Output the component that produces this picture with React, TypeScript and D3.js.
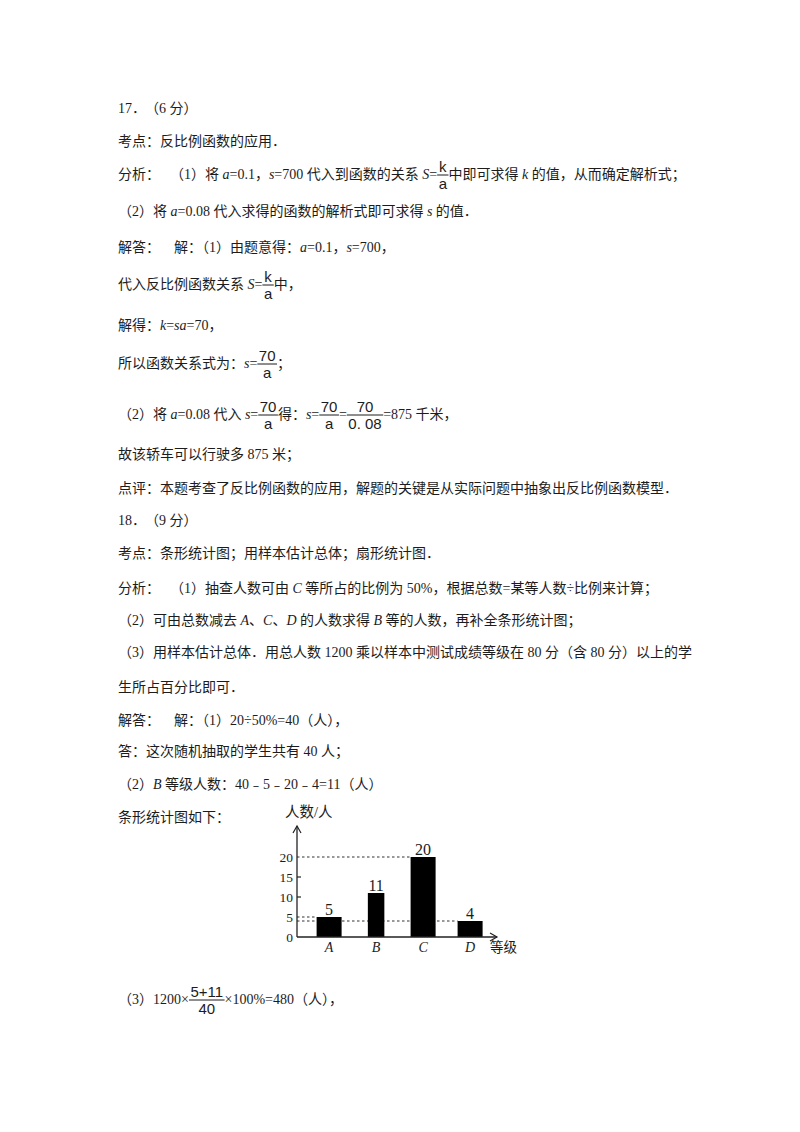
import React, { useMemo } from 'react';
import * as d3 from 'd3';

// ---------- chart data ----------
const categories = ['A', 'B', 'C', 'D'];
const counts = [5, 11, 20, 4];
const yTicks = [0, 5, 10, 15, 20];
const guideCategories = ['A', 'C', 'D'];
const yAxisTitle = '人数/人';
const xAxisTitle = '等级';

// ---------- page text ----------
type Item = string | { f: [string, string] } | { x: number };
type Line = { c: number; items: Item[] };

const lines: Line[] = [
  { c: 108, items: ['17．', { x: 145 }, '（6 分）'] },
  { c: 141, items: ['考点：反比例函数的应用．'] },
  { c: 174, items: ['分析：', { x: 170 }, '（1）将 *a*=0.1，*s*=700 代入到函数的关系 *S*=', { f: ['k', 'a'] }, '中即可求得 *k* 的值，从而确定解析式；'] },
  { c: 211, items: ['（2）将 *a*=0.08 代入求得的函数的解析式即可求得 *s* 的值．'] },
  { c: 247, items: ['解答：', { x: 174 }, '解：（1）由题意得：*a*=0.1，*s*=700，'] },
  { c: 284, items: ['代入反比例函数关系 *S*=', { f: ['k', 'a'] }, '中，'] },
  { c: 325, items: ['解得：*k*=*sa*=70，'] },
  { c: 363, items: ['所以函数关系式为：*s*=', { f: ['70', 'a'] }, '；'] },
  { c: 414, items: ['（2）将 *a*=0.08 代入 *s*=', { f: ['70', 'a'] }, '得：*s*=', { f: ['70', 'a'] }, '=', { f: ['70', '0. 08'] }, '=875 千米，'] },
  { c: 454, items: ['故该轿车可以行驶多 875 米；'] },
  { c: 488, items: ['点评：本题考查了反比例函数的应用，解题的关键是从实际问题中抽象出反比例函数模型．'] },
  { c: 520, items: ['18．', { x: 145 }, '（9 分）'] },
  { c: 553, items: ['考点：条形统计图；用样本估计总体；扇形统计图．'] },
  { c: 588, items: ['分析：', { x: 170 }, '（1）抽查人数可由 *C* 等所占的比例为 50%，根据总数=某等人数÷比例来计算；'] },
  { c: 620, items: ['（2）可由总数减去 *A*、*C*、*D* 的人数求得 *B* 等的人数，再补全条形统计图；'] },
  { c: 652, items: ['（3）用样本估计总体．用总人数 1200 乘以样本中测试成绩等级在 80 分（含 80 分）以上的学'] },
  { c: 687, items: ['生所占百分比即可．'] },
  { c: 720, items: ['解答：', { x: 174 }, '解：（1）20÷50%=40（人），'] },
  { c: 751, items: ['答：这次随机抽取的学生共有 40 人；'] },
  { c: 784, items: ['（2）*B* 等级人数：40﹣5﹣20﹣4=11（人）'] },
  { c: 817, items: ['条形统计图如下：'] },
  { c: 999, items: ['（3）1200×', { f: ['5+11', '40'] }, '×100%=480（人），'] },
];

// ---------- styles ----------
const FS = 14;
const SERIF = '"Liberation Serif", "Times New Roman", "Noto Sans CJK SC", serif';
const FRAC = '"Liberation Sans", Arial, "Noto Sans CJK SC", sans-serif';
const FRAC_FS = 15;
const INK = '#1c1c1c';
const LEFT = 118;
const barWidthScale: Record<string, number> = { A: 1, B: 0.66, C: 1, D: 1 };

let ctx: CanvasRenderingContext2D | null = null;
function measure(text: string, italic: boolean, size: number, family: string) {
  if (!ctx) ctx = document.createElement('canvas').getContext('2d');
  if (!ctx) return text.length * size * 0.6;
  ctx.font = `${italic ? 'italic ' : ''}${size}px ${family}`;
  return ctx.measureText(text).width;
}

function layoutLine(line: Line, key: number) {
  const out: React.ReactNode[] = [];
  let cx = LEFT;
  const base = line.c + 5;
  const barY = line.c + 1;
  let k = 0;
  for (const it of line.items) {
    if (typeof it === 'string') {
      const parts = it.split('*');
      parts.forEach((p, i) => {
        if (!p) return;
        const italic = i % 2 === 1;
        out.push(
          <text key={`${key}-${k++}`} x={cx} y={base} fontFamily={SERIF} fontSize={FS}
            fontStyle={italic ? 'italic' : 'normal'} fill={INK} style={{ whiteSpace: 'pre' }}>{p}</text>
        );
        cx += measure(p, italic, FS, SERIF);
      });
    } else if ('x' in it) {
      cx = it.x;
    } else {
      const [n, d] = it.f;
      const w = Math.max(measure(n, false, FRAC_FS, FRAC), measure(d, false, FRAC_FS, FRAC)) + 3;
      out.push(
        <g key={`${key}-${k++}`}>
          <text x={cx + w / 2} y={barY - 3} textAnchor="middle" fontFamily={FRAC} fontSize={FRAC_FS}
            fill={INK} style={{ whiteSpace: 'pre' }}>{n}</text>
          <line x1={cx} x2={cx + w} y1={barY} y2={barY} stroke={INK} strokeWidth={1} />
          <text x={cx + w / 2} y={barY + 14} textAnchor="middle" fontFamily={FRAC} fontSize={FRAC_FS}
            fill={INK} style={{ whiteSpace: 'pre' }}>{d}</text>
        </g>
      );
      cx += w;
    }
  }
  return <g key={key}>{out}</g>;
}

function BarChart() {
  const xAxisX = 297;
  const baseY = 937;
  const x = d3.scaleBand<string>().domain(categories).range([305.6, 493.6]);
  const y = d3.scaleLinear().domain([0, 20]).range([baseY, 857]);
  const barW = 25;
  const xEnd = 497;
  const yTop = 826;
  const barLeft = (c: string) => x(c)! + x.bandwidth() / 2 - (barW * barWidthScale[c]) / 2;

  return (
    <g>
      {guideCategories.map((c) => {
        const v = counts[categories.indexOf(c)];
        return (
          <line key={`g${c}`} x1={xAxisX} x2={barLeft(c)} y1={y(v)} y2={y(v)}
            stroke="#333" strokeWidth={1.2} strokeDasharray="2.5,2.5" />
        );
      })}
      {categories.map((c, i) => {
        const w = barW * barWidthScale[c];
        const cx = x(c)! + x.bandwidth() / 2;
        return (
          <g key={c}>
            <rect x={cx - w / 2} y={y(counts[i])} width={w} height={baseY - y(counts[i])} fill="#000" />
            <text x={cx} y={y(counts[i]) - 2} textAnchor="middle" fontFamily={SERIF} fontSize={16} fill={INK}>
              {counts[i]}
            </text>
            <text x={cx} y={baseY + 15} textAnchor="middle" fontFamily={SERIF} fontStyle="italic" fontSize={14} fill={INK}>
              {c}
            </text>
          </g>
        );
      })}
      <line x1={xAxisX} x2={xAxisX} y1={baseY} y2={yTop} stroke="#222" strokeWidth={1.3} />
      <polyline points={`${xAxisX - 4},${yTop + 7} ${xAxisX},${yTop} ${xAxisX + 4},${yTop + 7}`} fill="none" stroke="#222" strokeWidth={1.2} />
      <line x1={xAxisX} x2={xEnd} y1={baseY} y2={baseY} stroke="#222" strokeWidth={1.3} />
      <polyline points={`${xEnd - 7},${baseY - 4} ${xEnd},${baseY} ${xEnd - 7},${baseY + 4}`} fill="none" stroke="#222" strokeWidth={1.2} />
      {yTicks.map((t) => (
        <g key={`t${t}`}>
          {t === 10 || t === 15 ? (
            <line x1={xAxisX} x2={xAxisX + 4} y1={y(t)} y2={y(t)} stroke="#222" strokeWidth={1.2} />
          ) : null}
          <text x={293} y={y(t) + 4.5} textAnchor="end" fontFamily={SERIF} fontSize={13.5} fill={INK}>{t}</text>
        </g>
      ))}
      <text x={285} y={817} fontFamily={SERIF} fontSize={14.5} fill={INK}>{yAxisTitle}</text>
      <text x={490} y={952} fontFamily={SERIF} fontSize={13.5} fill={INK}>{xAxisTitle}</text>
    </g>
  );
}

export default function App() {
  const textNodes = useMemo(() => lines.map((l, i) => layoutLine(l, i)), []);
  return (
    <div style={{ position: 'absolute', left: 0, top: 0, background: '#fff' }}>
      <svg width={800} height={1132} viewBox="0 0 800 1132" style={{ display: 'block', background: '#fff' }}>
        <rect x={0} y={0} width={800} height={1132} fill="#fff" />
        {textNodes}
        <BarChart />
      </svg>
    </div>
  );
}
